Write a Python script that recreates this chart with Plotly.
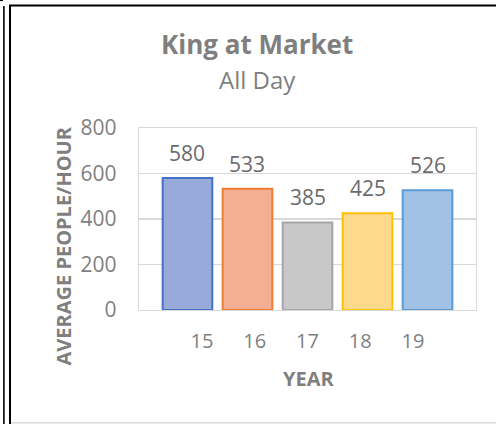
import plotly.graph_objects as go

# ---- data ----
years = ["15", "16", "17", "18", "19"]
people_per_hour = [580, 533, 385, 425, 526]
y_ticks = [0, 200, 400, 600, 800]
chart_title = "King at Market"
chart_subtitle = "All Day"
x_title = "YEAR"
y_title = "AVERAGE PEOPLE/HOUR"

# ---- style ----
bar_fills = ["#97aada", "#f4af93", "#c8c8c8", "#fed98c", "#a1c1e5"]
bar_lines = ["#4472c4", "#ed7d31", "#a5a5a5", "#ffc000", "#5b9bd5"]
text_gray = "#7f7f7f"
label_gray = "#6b6b6b"
grid_gray = "#d9d9d9"
FONT = "Open Sans"

W, H = 496, 424
L, R, T, B = 139, 20, 128, 114
PW, PH = W - L - R, H - T - B


def px(x):
    return (x - L) / PW


def py(y):
    return (H - B - y) / PH


fig = go.Figure()
fig.add_bar(
    x=years, y=people_per_hour, width=0.827,
    marker=dict(color=bar_fills, line=dict(color=bar_lines, width=2)),
    hoverinfo="skip", showlegend=False,
)
# invisible trace carrying the (offset) category labels axis
fig.add_scatter(
    x=years, y=people_per_hour, xaxis="x2", yaxis="y", mode="markers",
    marker=dict(opacity=0), hoverinfo="skip", showlegend=False,
)

annotations = []
for i, v in enumerate(people_per_hour):
    annotations.append(dict(
        x=i, y=v, xref="x", yref="y", text=str(v), showarrow=False,
        yshift=25, font=dict(family=FONT, size=21, color=label_gray),
    ))

annotations += [
    dict(x=px(257), y=py(44), xref="paper", yref="paper", text="<b>%s</b>" % chart_title,
         showarrow=False, font=dict(family=FONT, size=26, color=text_gray),
         xanchor="center", yanchor="middle"),
    dict(x=px(257), y=py(79), xref="paper", yref="paper", text=chart_subtitle,
         showarrow=False, font=dict(family=FONT, size=24, color=text_gray),
         xanchor="center", yanchor="middle"),
    dict(x=px(308), y=py(378), xref="paper", yref="paper", text="<b>%s</b>" % x_title,
         showarrow=False, font=dict(family=FONT, size=20, color=text_gray),
         xanchor="center", yanchor="middle"),
    dict(x=px(63), y=py(246.5), xref="paper", yref="paper", text="<b>%s</b>" % y_title,
         showarrow=False, textangle=-90, font=dict(family=FONT, size=20, color=text_gray),
         xanchor="center", yanchor="middle"),
]

shapes = [
    dict(type="line", xref="paper", yref="paper", x0=px(0), x1=px(3), y0=py(0.5), y1=py(0.5),
         line=dict(color="black", width=1.2)),
    dict(type="line", xref="paper", yref="paper", x0=px(3.9), x1=px(3.9), y0=py(6), y1=py(424),
         line=dict(color="black", width=1.6)),
    dict(type="line", xref="paper", yref="paper", x0=px(10), x1=px(10), y0=py(5), y1=py(424),
         line=dict(color="black", width=2)),
    dict(type="line", xref="paper", yref="paper", x0=px(9), x1=px(496), y0=py(5.5), y1=py(5.5),
         line=dict(color="black", width=2.2)),
    dict(type="line", xref="paper", yref="paper", x0=px(11), x1=px(496), y0=py(422.8), y1=py(422.8),
         line=dict(color=grid_gray, width=1.5)),
]

fig.update_layout(
    width=W, height=H,
    margin=dict(l=L, r=R, t=T, b=B, pad=0),
    paper_bgcolor="white", plot_bgcolor="white",
    font=dict(family=FONT, color=text_gray),
    annotations=annotations, shapes=shapes,
    bargap=0,
    xaxis=dict(type="category", range=[-0.808, 4.808], showticklabels=False,
               showgrid=False, zeroline=False, showline=True, mirror=True,
               linecolor=grid_gray, linewidth=1.3, ticks="", fixedrange=True),
    xaxis2=dict(type="category", overlaying="x", side="bottom", anchor="y",
                range=[-1.194, 5.194], showgrid=False, zeroline=False, showline=False,
                ticks="", ticklabelstandoff=17,
                tickfont=dict(family=FONT, size=20, color=text_gray), fixedrange=True),
    yaxis=dict(range=[0, 800], tickvals=y_ticks, showgrid=True, gridcolor=grid_gray,
               gridwidth=1.3, zeroline=False, showline=True, mirror=True,
               linecolor=grid_gray, linewidth=1.3, ticks="", ticklabelstandoff=17,
               tickfont=dict(family=FONT, size=21, color=text_gray), fixedrange=True),
)

fig.write_html(
    "out.html",
    config={"displayModeBar": False, "staticPlot": True},
    post_script="document.body.style.margin='0';document.body.style.overflow='hidden';",
)
